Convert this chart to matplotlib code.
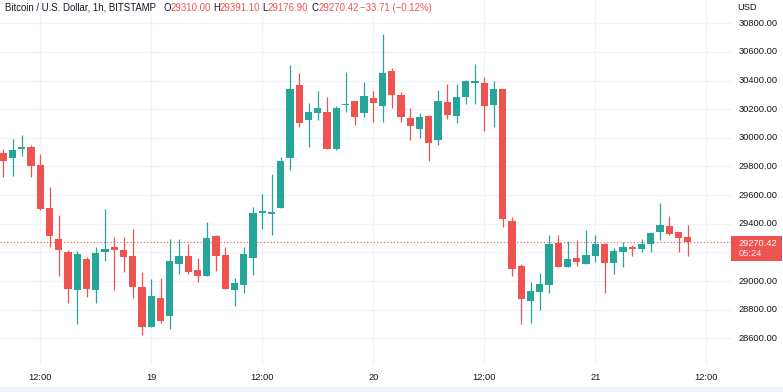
import matplotlib
matplotlib.use("Agg")
import matplotlib.pyplot as plt
import matplotlib.patches as mpatches
import pandas as pd
import numpy as np

# ---- data ----
start_time = "2021-07-18 08:00"
opens = [29892, 29857, 29924, 29934, 29810, 29510, 29291, 29200, 28937, 29152,
         28937, 29205, 29238, 29217, 29172, 28958, 28681, 28879, 28753, 29121,
         29172, 29077, 29037, 29317, 29179, 28937, 28975, 29159, 29477, 29470,
         29512, 29857, 30371, 30125, 30176, 30183, 29924, 30227, 30257, 30176,
         30276, 30225, 30464, 30299, 30139, 30064, 30155, 29987, 30250, 30153,
         30285, 30385, 30383, 30232, 30343, 29417, 29105, 28860, 28926, 28975,
         29268, 29100, 29161, 29121, 29177, 29256, 29126, 29205, 29238, 29226,
         29256, 29342, 29384, 29340, 29310.00]
highs = [29920, 29994, 30018, 29948, 29885, 29659, 29461, 29217, 29210, 29165,
         29238, 29501, 29307, 29307, 29363, 29063, 29012, 29019, 29294, 29294,
         29259, 29161, 29412, 29321, 29238, 29019, 29235, 29515, 29605, 29745,
         29866, 30509, 30451, 30243, 30327, 30283, 30222, 30460, 30257, 30390,
         30327, 30725, 30485, 30320, 30208, 30171, 30160, 30334, 30374, 30374,
         30404, 30518, 30423, 30397, 30343, 29450, 29117, 28993, 29056, 29321,
         29321, 29282, 29289, 29356, 29321, 29268, 29233, 29272, 29249, 29294,
         29340, 29545, 29454, 29340, 29391.10]
lows = [29724, 29736, 29876, 29729, 29496, 29240, 29035, 28849, 28697, 28891,
        28849, 29142, 28935, 29065, 28884, 28621, 28677, 28705, 28663, 29047,
        29049, 28996, 29037, 29070, 28947, 28826, 28914, 29042, 29361, 29324,
        29512, 29778, 30073, 29938, 30125, 29924, 29917, 30183, 30092, 30146,
        30113, 30113, 30206, 30113, 29987, 30001, 29841, 29952, 30129, 30101,
        30239, 30239, 30050, 30078, 29375, 29037, 28697, 28709, 28798, 28914,
        29096, 29100, 29107, 29121, 29131, 28919, 29051, 29098, 29177, 29203,
        29203, 29289, 29321, 29205, 29176.90]
closes = [29841, 29915, 29938, 29803, 29505, 29314, 29214, 28947, 29189, 28942,
          29196, 29224, 29214, 29170, 28961, 28681, 28895, 28721, 29140, 29172,
          29063, 29037, 29300, 29177, 28947, 28988, 29189, 29477, 29487, 29480,
          29838, 30343, 30106, 30183, 30206, 29924, 30206, 30234, 30148, 30292,
          30241, 30455, 30302, 30148, 30085, 30148, 29964, 30257, 30162, 30288,
          30395, 30399, 30225, 30343, 29436, 29086, 28877, 28928, 28977, 29256,
          29100, 29152, 29131, 29179, 29256, 29126, 29207, 29238, 29226, 29256,
          29335, 29389, 29331, 29303, 29270.42]
tick_times = ["2021-07-18 12:00", "2021-07-19 00:00", "2021-07-19 12:00",
              "2021-07-20 00:00", "2021-07-20 12:00", "2021-07-21 00:00",
              "2021-07-21 12:00"]
tick_labels = ["12:00", "19", "12:00", "20", "12:00", "21", "12:00"]
y_grid = [28600, 28800, 29000, 29200, 29400, 29600, 29800, 30000, 30200, 30400, 30600, 30800]
y_labels = [28600, 28800, 29000, 29400, 29600, 29800, 30000, 30200, 30400, 30600, 30800]
last_price = 29270.42
countdown = "05:24"
change = -33.71
change_pct = -0.12

# ---- style ----
RED = "#EF5350"
GREEN = "#26A69A"
GRID = "#F0F3FA"
TXT = "#131722"
FONT = ["Liberation Sans", "DejaVu Sans"]
plt.rcParams["font.family"] = FONT

W, H = 783, 392
fig = plt.figure(figsize=(W / 100, H / 100), dpi=100)
fig.patch.set_facecolor("white")

ax_left, ax_right, ax_top, ax_bottom = 0, 731, 0, 365
ax = fig.add_axes([ax_left / W, 1 - ax_bottom / H, (ax_right - ax_left) / W, (ax_bottom - ax_top) / H])

times = pd.date_range(start_time, periods=len(opens), freq="h")
t0 = times[0]
x = np.array([(t - t0) / pd.Timedelta(hours=1) for t in times])
o = np.array(opens, float); h = np.array(highs, float)
l = np.array(lows, float); c = np.array(closes, float)
up = c >= o
cols = np.where(up, GREEN, RED)

# wicks
ax.vlines(x, l, h, colors=cols, linewidth=0.9, zorder=3)
# bodies
bottoms = np.minimum(o, c)
heights = np.maximum(np.abs(c - o), 12)
ax.bar(x, heights, bottom=bottoms, width=0.78, color=cols, linewidth=0, zorder=4)

# axes limits (pixel mapping)
px_per_usd = (338.3 - 23.3) / 2200.0
ymax = 30800 + (23.3 - ax_top) / px_per_usd
ymin = 30800 - (ax_bottom - 23.3) / px_per_usd
ax.set_ylim(ymin, ymax)
spacing = 9.25
x0_px = 3.3
ax.set_xlim(-(x0_px - ax_left) / spacing, (ax_right - x0_px) / spacing)

# grid
tx = [(pd.Timestamp(t) - t0) / pd.Timedelta(hours=1) for t in tick_times]
for v in tx:
    ax.axvline(v, color=GRID, linewidth=1, zorder=0)
for v in y_grid:
    ax.axhline(v, color=GRID, linewidth=1, zorder=0)

ax.axhline(last_price, color=RED, linewidth=0.8, linestyle=(0, (1, 2)), zorder=2)

for s in ax.spines.values():
    s.set_visible(False)
ax.set_xticks([])
ax.set_yticks([])

# y tick labels (right)
def fy(price):
    return 1 - (ax_top + (ymax - price) * px_per_usd) / H

for v in y_labels:
    fig.text(739 / W, fy(v), f"{v:.2f}", fontsize=6.7, color=TXT, va="center", ha="left")
fig.text(737 / W, 1 - 7 / H, "USD", fontsize=6.7, color=TXT, va="center", ha="left")

# x tick labels
for v, lab in zip(tx, tick_labels):
    px = x0_px + v * spacing
    fig.text(px / W, 1 - 377 / H, lab, fontsize=6.7, color=TXT, va="center", ha="center")

# bottom strip
fig.patches.append(mpatches.Rectangle((0, 0), 1, 5.5 / H, transform=fig.transFigure,
                                      facecolor=GRID, edgecolor="none"))

# price box
fig.patches.append(mpatches.Rectangle((731 / W, 1 - 261 / H), 51 / W, 25 / H,
                                      transform=fig.transFigure, facecolor=RED, edgecolor="none"))
fig.text(739 / W, 1 - 243 / H, f"{last_price:.2f}", fontsize=6.7, color="white", va="center", ha="left")
fig.text(739 / W, 1 - 253.5 / H, countdown, fontsize=6.7, color="white", alpha=0.85, va="center", ha="left")

# header
renderer = fig.canvas.get_renderer()
hy = 1 - 8 / H
pieces = [("Bitcoin / U.S. Dollar, 1h, BITSTAMP", TXT, 5),
          ("O", TXT, 163), (f"{opens[-1]:.2f}", RED, None),
          ("H", TXT, 213), (f"{highs[-1]:.2f}", RED, None),
          ("L", TXT, 262.5), (f"{lows[-1]:.2f}", RED, None),
          ("C", TXT, 311.5), (f"{closes[-1]:.2f}", RED, None),
          (f"\u2212{abs(change):.2f} (\u2212{abs(change_pct):.2f}%)", RED, 360)]
cur = 5
for txt, col, xpos in pieces:
    if xpos is not None:
        cur = xpos
    t = fig.text(cur / W, hy, txt, fontsize=6.9, color=col, va="center", ha="left")
    bb = t.get_window_extent(renderer=renderer)
    cur = cur + bb.width

fig.savefig("out.png", dpi=100, facecolor="white")
